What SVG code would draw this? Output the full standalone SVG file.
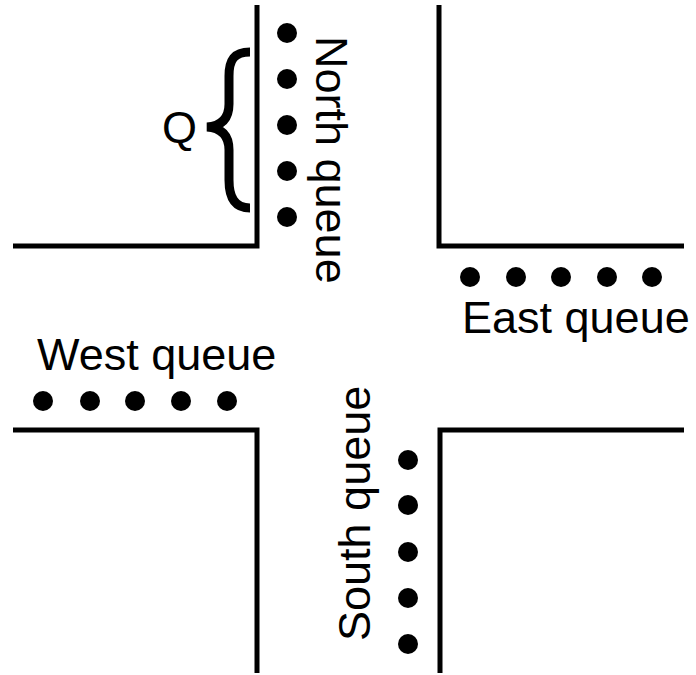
<svg xmlns="http://www.w3.org/2000/svg" width="696" height="675" viewBox="0 0 696 675">
<style>
.road{fill:none;stroke:#000;stroke-width:5;stroke-linejoin:miter;stroke-linecap:butt}
.dot{fill:#000}
.lbl{font-family:"Liberation Sans",Arial,sans-serif;font-size:45px;fill:#000}
</style>
<rect width="696" height="675" fill="#fff"/>
<g id="roads">
<polyline class="road" points="257,5 257,246 13,246"/>
<polyline class="road" points="439,5 439,246 684,246"/>
<polyline class="road" points="13,430 257,430 257,673"/>
<polyline class="road" points="684,430 440,430 440,673"/>
</g>
<g id="north-queue">
<circle class="dot" cx="287" cy="33" r="10"/>
<circle class="dot" cx="287" cy="79" r="10"/>
<circle class="dot" cx="287" cy="125" r="10"/>
<circle class="dot" cx="287" cy="171" r="10"/>
<circle class="dot" cx="287" cy="217" r="10"/>
<text class="lbl" transform="translate(316,36) rotate(90)">North queue</text>
</g>
<g id="q-brace">
<path d="M250,52 C234,52 229,60 229,76 L229,104 C229,118 222,126 207,127 C222,128 229,136 229,150 L229,180 C229,196 234,208 250,208" fill="none" stroke="#000" stroke-width="9"/>
<text class="lbl" x="162" y="143">Q</text>
</g>
<g id="east-queue">
<circle class="dot" cx="470" cy="277" r="10"/>
<circle class="dot" cx="516" cy="277" r="10"/>
<circle class="dot" cx="561" cy="277" r="10"/>
<circle class="dot" cx="607" cy="277" r="10"/>
<circle class="dot" cx="652" cy="277" r="10"/>
<text class="lbl" x="462" y="333">East queue</text>
</g>
<g id="west-queue">
<circle class="dot" cx="43" cy="401" r="10"/>
<circle class="dot" cx="90" cy="401" r="10"/>
<circle class="dot" cx="135" cy="401" r="10"/>
<circle class="dot" cx="181" cy="401" r="10"/>
<circle class="dot" cx="227" cy="401" r="10"/>
<text class="lbl" x="37" y="370">West queue</text>
</g>
<g id="south-queue">
<circle class="dot" cx="408" cy="460" r="10"/>
<circle class="dot" cx="408" cy="505" r="10"/>
<circle class="dot" cx="408" cy="552" r="10"/>
<circle class="dot" cx="408" cy="598" r="10"/>
<circle class="dot" cx="408" cy="644" r="10"/>
<text class="lbl" transform="translate(370,641) rotate(-90)">South queue</text>
</g>
<g id="connectors"/>
</svg>
